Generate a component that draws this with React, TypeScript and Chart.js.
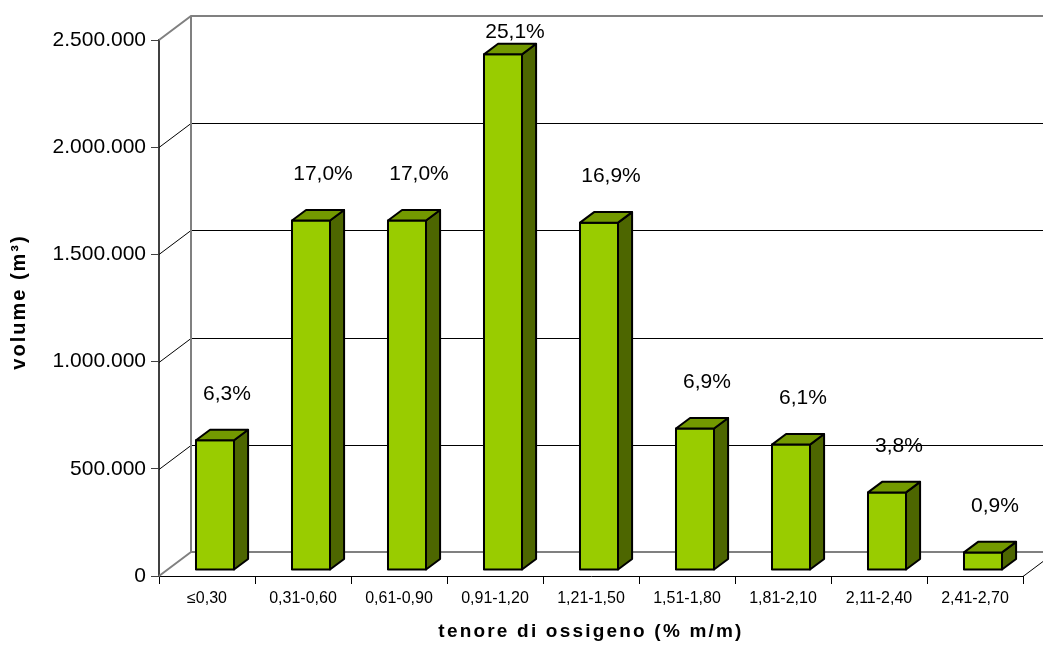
import { useEffect, useRef } from "react";
import { Chart, registerables } from "chart.js";

Chart.register(...registerables);

const categories = [
  "≤0,30",
  "0,31-0,60",
  "0,61-0,90",
  "0,91-1,20",
  "1,21-1,50",
  "1,51-1,80",
  "1,81-2,10",
  "2,11-2,40",
  "2,41-2,70",
];
const volumes = [605000, 1630000, 1630000, 2405000, 1620000, 660000, 585000, 362000, 82000];
const shareLabels = ["6,3%", "17,0%", "17,0%", "25,1%", "16,9%", "6,9%", "6,1%", "3,8%", "0,9%"];
const yTicks = [0, 500000, 1000000, 1500000, 2000000, 2500000];
const xTitle = "tenore di ossigeno (% m/m)";
const yTitle = "volume (m³)";

const FONT = "'Liberation Sans', Arial, sans-serif";
const DX = 32;
const DY = 24;
const FRONT = 0.25;
const BACK = 0.69;

const fmt = (v: number) => String(v).replace(/\B(?=(\d{3})+(?!\d))/g, ".");

const threeD = {
  id: "threeD",
  beforeDatasetsDraw(chart: any) {
    const { ctx, chartArea: a, scales } = chart;
    const y = scales.y;
    const W = chart.width;
    const top = y.getPixelForValue(yTicks[yTicks.length - 1]);
    const bot = y.getPixelForValue(0);
    ctx.save();
    ctx.lineWidth = 1;
    ctx.strokeStyle = "#000";
    for (const t of yTicks) {
      if (t === 0 || t === yTicks[yTicks.length - 1]) continue;
      const py = Math.round(y.getPixelForValue(t)) + 0.5;
      ctx.beginPath();
      ctx.moveTo(a.left, py);
      ctx.lineTo(a.left + DX, py - DY);
      ctx.lineTo(W, py - DY);
      ctx.stroke();
    }
    ctx.strokeStyle = "#808080";
    ctx.lineWidth = 2;
    ctx.beginPath();
    ctx.moveTo(a.left, top);
    ctx.lineTo(a.left + DX, top - DY);
    ctx.lineTo(W, top - DY);
    ctx.moveTo(a.left + DX, top - DY);
    ctx.lineTo(a.left + DX, bot - DY);
    ctx.lineTo(W, bot - DY);
    ctx.moveTo(a.left, bot);
    ctx.lineTo(a.left + DX, bot - DY);
    ctx.stroke();
    ctx.strokeStyle = "#000";
    ctx.lineWidth = 1;
    ctx.beginPath();
    ctx.moveTo(a.right, bot + 0.5);
    ctx.lineTo(a.right + DX, bot - DY + 0.5);
    ctx.stroke();
    ctx.restore();
  },
  afterDatasetsDraw(chart: any) {
    const { ctx, chartArea: a } = chart;
    const meta = chart.getDatasetMeta(0);
    const fx = DX * FRONT;
    const fy = DY * FRONT;
    const dx = DX * (BACK - FRONT);
    const dy = DY * (BACK - FRONT);
    ctx.save();
    ctx.lineJoin = "round";
    ctx.lineWidth = 2;
    ctx.strokeStyle = "#000";
    const poly = (pts: number[][], fill: string) => {
      ctx.beginPath();
      ctx.moveTo(pts[0][0], pts[0][1]);
      for (let k = 1; k < pts.length; k++) ctx.lineTo(pts[k][0], pts[k][1]);
      ctx.closePath();
      ctx.fillStyle = fill;
      ctx.fill();
      ctx.stroke();
    };
    meta.data.forEach((el: any, i: number) => {
      const { x, y, base, width } = el.getProps(["x", "y", "base", "width"], true);
      const x0 = x - width / 2 + fx;
      const x1 = x + width / 2 + fx;
      const t = y - fy;
      const b = base - fy;
      poly([[x0, t], [x1, t], [x1, b], [x0, b]], "#99CC00");
      poly([[x1, t], [x1 + dx, t - dy], [x1 + dx, b - dy], [x1, b]], "#4D6600");
      poly([[x0, t], [x1, t], [x1 + dx, t - dy], [x0 + dx, t - dy]], "#739900");
      ctx.fillStyle = "#000";
      ctx.font = `21px ${FONT}`;
      ctx.textAlign = "center";
      ctx.textBaseline = "middle";
      const ly = Math.max(t - 46, a.top - 8);
      ctx.fillText(shareLabels[i], x + 20, ly);
    });
    ctx.restore();
  },
  afterDraw(chart: any) {
    const { ctx, chartArea: a } = chart;
    ctx.save();
    ctx.fillStyle = "#000";
    ctx.font = `bold 19px ${FONT}`;
    (ctx as any).letterSpacing = "2.2px";
    ctx.textAlign = "center";
    ctx.textBaseline = "middle";
    ctx.fillText(xTitle, (a.left + a.right) / 2, 632);
    ctx.font = `bold 20px ${FONT}`;
    (ctx as any).letterSpacing = "2px";
    ctx.translate(19, (a.top + a.bottom) / 2 - 6);
    ctx.rotate(-Math.PI / 2);
    ctx.fillText(yTitle, 0, 0);
    ctx.restore();
  },
};

export default function App() {
  const ref = useRef<HTMLCanvasElement | null>(null);
  useEffect(() => {
    if (!ref.current) return;
    const chart = new Chart(ref.current, {
      type: "bar",
      data: {
        labels: categories,
        datasets: [
          {
            data: volumes,
            backgroundColor: "rgba(0,0,0,0)",
            borderWidth: 0,
            barPercentage: 0.396,
            categoryPercentage: 1,
          },
        ],
      },
      options: {
        responsive: false,
        animation: false,
        devicePixelRatio: 1,
        layout: { padding: { top: 40, right: 20, left: 0, bottom: 0 } },
        plugins: {
          legend: { display: false },
          tooltip: { enabled: false },
          title: { display: false },
        },
        scales: {
          x: {
            type: "category",
            offset: true,
            grid: {
              offset: true,
              drawOnChartArea: false,
              drawTicks: true,
              tickLength: 8,
              color: "#000",
              lineWidth: 1,
            },
            border: { display: true, color: "#000", width: 1 },
            ticks: {
              color: "#000",
              font: { family: FONT, size: 16 },
              padding: 5,
              maxRotation: 0,
              autoSkip: false,
            },
            afterFit: (s: any) => {
              s.height = 70;
            },
          },
          y: {
            min: 0,
            max: 2500000,
            afterBuildTicks: (s: any) => {
              s.ticks = yTicks.map((v) => ({ value: v }));
            },
            grid: { drawOnChartArea: false, tickLength: 8, color: "#404040", lineWidth: 1 },
            border: { display: true, color: "#404040", width: 2 },
            ticks: {
              color: "#000",
              font: { family: FONT, size: 21 },
              padding: 5,
              callback: (v: any) => fmt(Number(v)),
            },
            afterFit: (s: any) => {
              s.width = 159;
            },
          },
        },
      },
      plugins: [threeD],
    } as any);
    return () => chart.destroy();
  }, []);
  return (
    <div style={{ position: "absolute", left: 0, top: 0, width: 1043, height: 646, background: "#fff" }}>
      <canvas ref={ref} width={1043} height={646} style={{ display: "block" }} />
    </div>
  );
}
